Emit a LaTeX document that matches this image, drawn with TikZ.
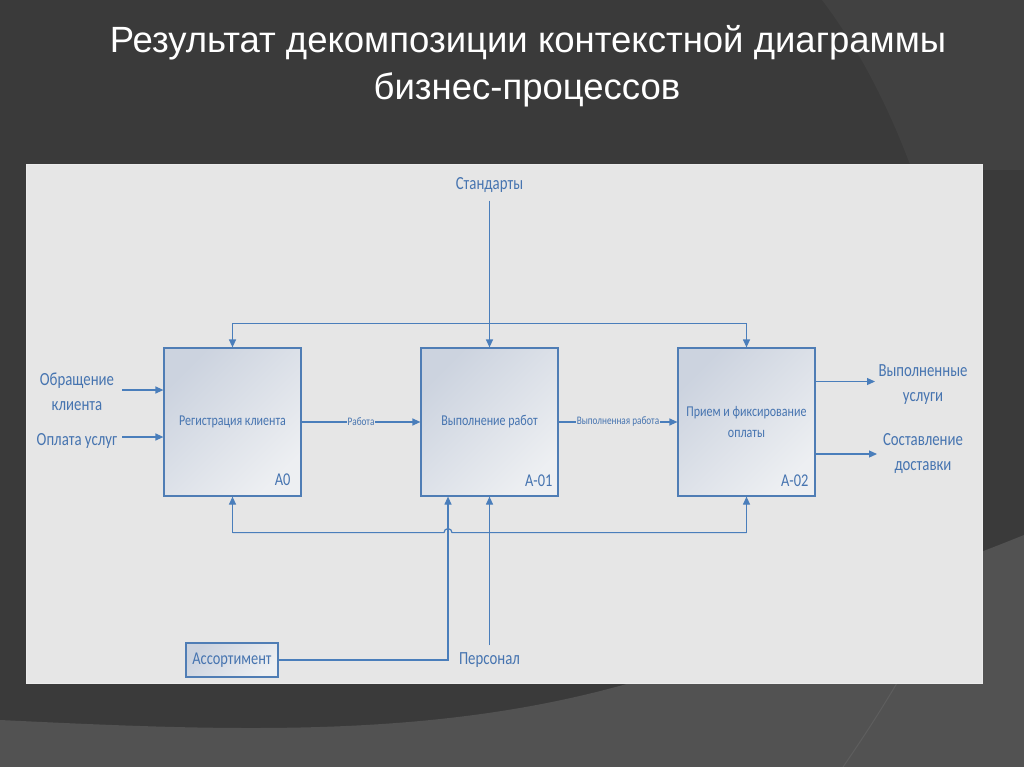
\documentclass[tikz,border=0pt]{standalone}
\usepackage{fontspec}
\newfontfamily\titlefont{Liberation Sans}
\newfontfamily\dfont[FakeStretch=0.8]{Carlito}
\usetikzlibrary{arrows.meta}
\definecolor{bgdark}{HTML}{3A3A3A}
\definecolor{bglight}{HTML}{414141}
\definecolor{bgbottom}{HTML}{525252}
\definecolor{bgline}{HTML}{5E5E5E}
\definecolor{panelbg}{HTML}{E6E6E6}
\definecolor{linecol}{HTML}{4A7EBB}
\definecolor{txtcol}{HTML}{4674B0}
\definecolor{boxborder}{HTML}{4F7DB5}
\definecolor{boxtop}{HTML}{CCD3DF}
\definecolor{boxbot}{HTML}{EDEFF2}
\tikzset{
  conn/.style={draw=linecol, line width=1.2pt},
  arr/.style={conn, -{Triangle[length=8pt,width=7pt]}},
  procbox/.style={draw=boxborder, line width=1.2pt, top color=boxtop, bottom color=boxbot,
    shading angle=45, minimum width=137pt, minimum height=148pt, inner sep=0pt,
    text=txtcol, align=center, font=\dfont\fontsize{15}{21}\selectfont},
  idlabel/.style={text=txtcol, inner sep=0pt, font=\dfont\fontsize{18}{20}\selectfont},
  extlabel/.style={text=txtcol, inner sep=0pt, align=center, font=\dfont\fontsize{18.5}{24.5}\selectfont},
  flowlabel/.style={text=txtcol, fill=panelbg, inner sep=1pt, font=\dfont\fontsize{11.5}{13}\selectfont},
  titletext/.style={text=white, inner sep=0pt, font=\titlefont\fontsize{36.5}{44}\selectfont},
}
\begin{document}
\begin{tikzpicture}[x=1pt,y=-1pt]
\useasboundingbox (0,0) rectangle (1024,767);
% background
\fill[bgdark] (0,0) rectangle (1024,767);
\fill[bglight] (822,0) .. controls (860,50) and (890,110) .. (912,170) -- (1024,170) -- (1024,0) -- cycle;
\fill[bgbottom] (0,720) .. controls (250,732) and (480,742) .. (700,660)
  .. controls (850,600) and (950,565) .. (1024,535) -- (1024,767) -- (0,767) -- cycle;
\draw[bgline, line width=1pt] (897,683) .. controls (875,720) and (858,745) .. (843,767);
% panel
\fill[panelbg] (26,164) rectangle (982,683);
\draw[white!85!gray, line width=0.8pt] (26,164) rectangle (982,683);
% title
\node[titletext, anchor=base] (title1) at (528,53) {Результат декомпозиции контекстной диаграммы};
\node[titletext, anchor=base] (title2) at (527,100) {бизнес-процессов};
% process boxes
\node[procbox] (a0) at (232.5,422) {Регистрация клиента};
\node[procbox] (a01) at (489.5,422) {Выполнение работ};
\node[procbox] (a02) at (746.5,422) {Прием и фиксирование\\оплаты};
\node[idlabel, anchor=base east] (a0id) at ([xshift=-11pt,yshift=11pt]a0.south east) {A0};
\node[idlabel, anchor=base east] (a01id) at ([xshift=-6pt,yshift=10pt]a01.south east) {A-01};
\node[idlabel, anchor=base east] (a02id) at ([xshift=-7pt,yshift=10pt]a02.south east) {A-02};
% inputs
\node[extlabel] (in1t) at (77,392) {Обращение\\клиента};
\node[extlabel] (in2t) at (77,441) {Оплата услуг};
\coordinate (in1) at (122,390);
\coordinate (in2) at (122,437);
\draw[arr] (in1) -- (in1 -| a0.west);
\draw[arr] (in2) -- (in2 -| a0.west);
% flows between boxes
\draw[arr] (a0.east) -- node[flowlabel] (lbl1) {Работа} (a01.west);
\draw[arr] (a01.east) -- node[flowlabel] (lbl2) {Выполненная работа} (a02.west);
% outputs
\node[extlabel] (out1t) at (923,384.5) {Выполненные\\услуги};
\node[extlabel] (out2t) at (923,453.5) {Составление\\доставки};
\coordinate (out1) at (875,381.5);
\coordinate (out2) at (877,454);
\draw[arr] (out1 -| a02.east) -- (out1);
\draw[arr] (out2 -| a02.east) -- (out2);
% control
\node[extlabel] (std) at (489.5,185) {Стандарты};
\path (std.south) ++(0,8) coordinate (stdtop);
\draw[arr] (stdtop) -- (a01.north);
\path (a0.north) ++(0,-24) coordinate (tl);
\path (a02.north) ++(0,-24) coordinate (tr);
\draw[conn] (tl) -- (tr);
\draw[arr] (tl) -- (a0.north);
\draw[arr] (tr) -- (a02.north);
% mechanisms
\node[procbox, minimum width=92pt, minimum height=34pt, font=\dfont\fontsize{18}{20}\selectfont] (ass) at (232,660) {Ассортимент};
\node[extlabel] (pers) at (489.5,660) {Персонал};
\path (pers.north) ++(0,-7) coordinate (perstop);
\draw[arr] (perstop) -- (a01.south);
\coordinate (amx) at (448,660);
\draw[arr] (ass.east) -- (amx) -- (amx |- a01.south);
\path (a0.south) ++(0,36) coordinate (bl);
\path (a02.south) ++(0,36) coordinate (br);
\path (amx |- bl) ++(-4,0) coordinate (hopL);
\draw[conn] (bl) -- (hopL) arc (180:360:4) -- (br);
\draw[arr] (bl) -- (a0.south);
\draw[arr] (br) -- (a02.south);
\end{tikzpicture}
\end{document}
